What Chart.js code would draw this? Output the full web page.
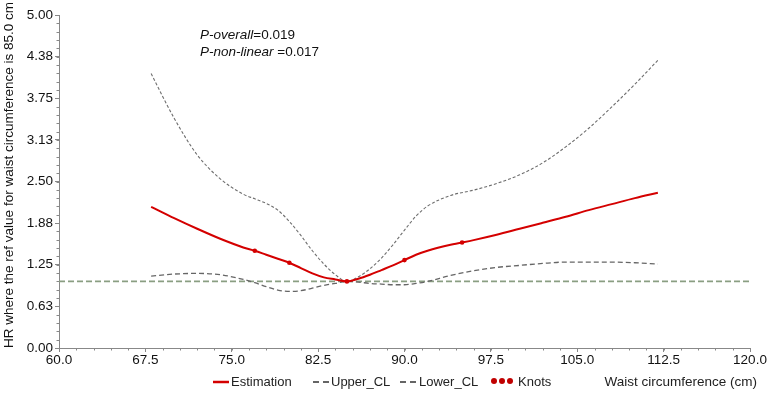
<!DOCTYPE html>
<html>
<head>
<meta charset="utf-8">
<script src="https://cdn.jsdelivr.net/npm/chart.js@4.4.1/dist/chart.umd.min.js"></script>
<style>
  html, body { margin: 0; padding: 0; background: #fff; }
  #wrap { width: 772px; height: 401px; position: relative; }
</style>
</head>
<body>
<div id="wrap"><canvas id="rcsChart" width="772" height="401"></canvas></div>
<script>
// Data
const waist = [68, 70, 72, 74, 76, 77, 78, 79, 80, 81, 82, 83, 84, 85, 86, 87, 88, 89, 90, 91, 92, 94, 96, 98, 100, 102, 104, 106, 108, 110, 112];
const estimation = [2.12, 1.95, 1.79, 1.64, 1.51, 1.46, 1.40, 1.34, 1.28, 1.20, 1.12, 1.06, 1.03, 1.00, 1.04, 1.10, 1.17, 1.24, 1.32, 1.40, 1.46, 1.55, 1.62, 1.70, 1.79, 1.88, 1.97, 2.07, 2.16, 2.25, 2.33];
const upperCL = [4.12, 3.45, 2.90, 2.54, 2.31, 2.24, 2.17, 2.07, 1.90, 1.69, 1.46, 1.26, 1.10, 1.00, 1.07, 1.19, 1.35, 1.55, 1.77, 1.98, 2.13, 2.29, 2.37, 2.47, 2.60, 2.78, 3.02, 3.30, 3.62, 3.96, 4.32];
const lowerCL = [1.08, 1.11, 1.12, 1.10, 1.03, 0.98, 0.92, 0.87, 0.85, 0.86, 0.90, 0.94, 0.97, 1.00, 0.99, 0.97, 0.96, 0.95, 0.95, 0.97, 1.00, 1.09, 1.16, 1.21, 1.24, 1.27, 1.29, 1.29, 1.29, 1.28, 1.26];
const knotsX = [77, 80, 85, 90, 95];
const knotsY = [1.46, 1.28, 1.00, 1.32, 1.585];
const refHR = 1.0;
const xTickLabels = ["60.0", "67.5", "75.0", "82.5", "90.0", "97.5", "105.0", "112.5", "120.0"];
const yTickLabels = ["0.00", "0.63", "1.25", "1.88", "2.50", "3.13", "3.75", "4.38", "5.00"];
const pLines = [["P-overall", "=0.019"], ["P-non-linear ", "=0.017"]];
const yTitle = 'HR where the ref value for waist circumference is 85.0 cm';

const FONT = "'Liberation Sans', Arial, sans-serif";

function pts(xs, ys) {
    return xs.map((x, i) => ({ x: x, y: ys[i] }));
}

// reference line, minor ticks, y title, p-values, legend and x title
const extras = {
    id: 'extras',
    beforeDatasetsDraw(chart) {
        const ctx = chart.ctx, a = chart.chartArea;
        const y = chart.scales.y.getPixelForValue(refHR);
        ctx.save();
        ctx.strokeStyle = '#8a9e82';
        ctx.lineWidth = 1.6;
        ctx.setLineDash([6, 3]);
        ctx.beginPath();
        ctx.moveTo(a.left, y);
        ctx.lineTo(a.right, y);
        ctx.stroke();
        ctx.restore();
    },
    afterDraw(chart) {
        const ctx = chart.ctx, a = chart.chartArea;
        const xs = chart.scales.x, ys = chart.scales.y;
        ctx.save();
        // minor ticks
        ctx.strokeStyle = '#888';
        ctx.lineWidth = 1;
        for (let v = 60; v <= 120.001; v += 1.5) {
            const px = Math.round(xs.getPixelForValue(v)) + 0.5;
            ctx.beginPath();
            ctx.moveTo(px, a.bottom);
            ctx.lineTo(px, a.bottom + 2.5);
            ctx.stroke();
        }
        for (let v = 0; v <= 5.001; v += 0.125) {
            const py = Math.round(ys.getPixelForValue(v)) + 0.5;
            ctx.beginPath();
            ctx.moveTo(a.left, py);
            ctx.lineTo(a.left - 2.5, py);
            ctx.stroke();
        }
        // y title
        ctx.fillStyle = '#111';
        ctx.font = '13.5px ' + FONT;
        ctx.textAlign = 'center';
        ctx.textBaseline = 'middle';
        ctx.save();
        ctx.translate(9, 175);
        ctx.rotate(-Math.PI / 2);
        ctx.fillText(yTitle, 0, 0);
        ctx.restore();
        ctx.textAlign = 'left';
        // p values
        let ty = 35;
        pLines.forEach(p => {
            ctx.font = 'italic 13.5px ' + FONT;
            ctx.fillText(p[0], 200, ty);
            const w = ctx.measureText(p[0]).width;
            ctx.font = '13.5px ' + FONT;
            ctx.fillText(p[1], 200 + w, ty);
            ty += 17;
        });
        // legend row
        const ly = 382;
        ctx.font = '13px ' + FONT;
        ctx.fillStyle = '#222';
        ctx.strokeStyle = '#d40000';
        ctx.lineWidth = 2.5;
        ctx.beginPath(); ctx.moveTo(213, ly); ctx.lineTo(229, ly); ctx.stroke();
        ctx.fillText('Estimation', 231, ly);
        ctx.strokeStyle = '#333';
        ctx.lineWidth = 1.5;
        [[313, 'Upper_CL', 331], [400, 'Lower_CL', 419]].forEach(d => {
            ctx.beginPath();
            ctx.moveTo(d[0], ly); ctx.lineTo(d[0] + 6, ly);
            ctx.moveTo(d[0] + 10, ly); ctx.lineTo(d[0] + 16, ly);
            ctx.stroke();
            ctx.fillText(d[1], d[2], ly);
        });
        ctx.fillStyle = '#c00000';
        [494, 502, 510].forEach(cx => {
            ctx.beginPath(); ctx.arc(cx, ly - 1, 3, 0, Math.PI * 2); ctx.fill();
        });
        ctx.fillStyle = '#222';
        ctx.fillText('Knots', 518, ly);
        ctx.font = '13.5px ' + FONT;
        ctx.textAlign = 'right';
        ctx.fillText('Waist circumference (cm)', 757, ly);
        ctx.restore();
    }
};

new Chart(document.getElementById('rcsChart').getContext('2d'), {
    type: 'scatter',
    data: {
        datasets: [
            {
                label: 'Knots',
                data: pts(knotsX, knotsY),
                showLine: false,
                pointRadius: 2.3,
                pointBackgroundColor: '#d40000',
                pointBorderWidth: 0
            },
            {
                label: 'Estimation',
                data: pts(waist, estimation),
                showLine: true,
                borderColor: '#d40000',
                borderWidth: 2,
                pointRadius: 0,
                cubicInterpolationMode: 'monotone'
            },
            {
                label: 'Upper_CL',
                data: pts(waist, upperCL),
                showLine: true,
                borderColor: '#6e6e6e',
                borderWidth: 1.1,
                borderDash: [3, 2],
                pointRadius: 0,
                cubicInterpolationMode: 'monotone'
            },
            {
                label: 'Lower_CL',
                data: pts(waist, lowerCL),
                showLine: true,
                borderColor: '#666',
                borderWidth: 1.3,
                borderDash: [5, 3],
                pointRadius: 0,
                cubicInterpolationMode: 'monotone'
            }
        ]
    },
    options: {
        responsive: false,
        animation: false,
        layout: { padding: { left: 0, right: 22, top: 15, bottom: 0 } },
        plugins: {
            legend: { display: false },
            tooltip: { enabled: false }
        },
        scales: {
            x: {
                type: 'linear',
                min: 60,
                max: 120,
                afterFit(scale) { scale.height = 53; },
                afterBuildTicks(scale) {
                    scale.ticks = xTickLabels.map(t => ({ value: parseFloat(t) }));
                },
                ticks: {
                    callback: (v, i) => xTickLabels[i],
                    color: '#111',
                    padding: 0,
                    maxRotation: 0,
                    font: { family: FONT, size: 13.5 }
                },
                grid: { drawOnChartArea: false, drawTicks: true, tickLength: 4, color: '#888' },
                border: { color: '#888', width: 1 }
            },
            y: {
                min: 0,
                max: 5,
                afterFit(scale) { scale.width = 59; },
                afterBuildTicks(scale) {
                    scale.ticks = yTickLabels.map((t, i) => ({ value: i * 0.625 }));
                },
                ticks: {
                    callback: (v, i) => yTickLabels[i],
                    color: '#111',
                    padding: 2,
                    font: { family: FONT, size: 13.5 }
                },
                grid: { drawOnChartArea: false, drawTicks: true, tickLength: 4, color: '#888' },
                border: { color: '#888', width: 1 }
            }
        }
    },
    plugins: [extras]
});
</script>
</body>
</html>
